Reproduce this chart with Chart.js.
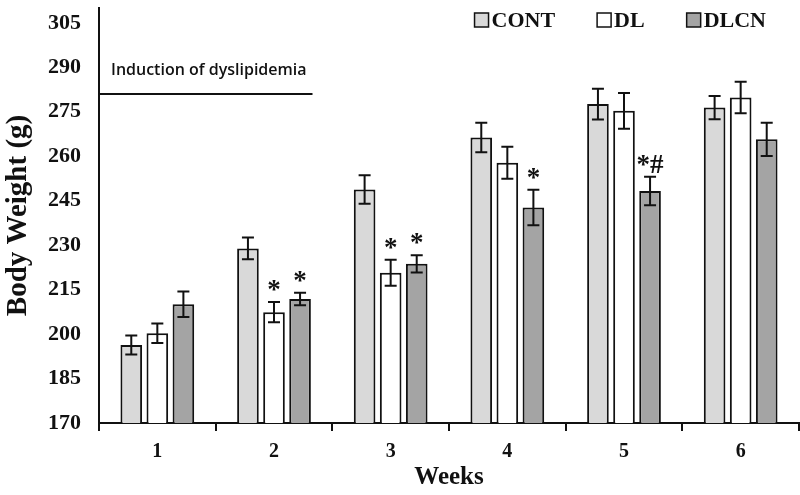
<!DOCTYPE html>
<html>
<head>
<meta charset="utf-8">
<script src="https://cdn.jsdelivr.net/npm/chart.js@4.4.0/dist/chart.umd.min.js"></script>
<style>
  html, body { margin: 0; padding: 0; background: #fff; }
  #wrap { width: 800px; height: 495px; }
</style>
</head>
<body>
<div id="wrap"><canvas id="weightChart"></canvas></div>
<script>
// Données
const weeks = ["1", "2", "3", "4", "5", "6"]
const seriesNames = ["CONT", "DL", "DLCN"]
const contValues = [196.3, 228.9, 248.8, 266.3, 277.6, 276.4]
const contErrors = [3.2, 3.7, 4.8, 5.0, 5.2, 3.9]
const dlValues = [200.3, 207.4, 220.7, 257.8, 275.3, 279.8]
const dlErrors = [3.3, 3.4, 4.4, 5.4, 6.0, 5.3]
const dlcnValues = [210.1, 211.8, 223.7, 242.7, 248.3, 265.7]
const dlcnErrors = [4.3, 2.1, 2.9, 6.0, 4.8, 5.6]
const contMarks = ["", "", "", "", "", ""]
const dlMarks = ["", "*", "*", "", "", ""]
const dlcnMarks = ["", "*", "*", "*", "*#", ""]
const yTickValues = [170, 185, 200, 215, 230, 245, 260, 275, 290, 305]
const inductionLabel = "Induction of dyslipidemia"
const inductionWeight = 281
const inductionWeeks = [-0.5, 1.33]

const SERIF = "'Liberation Serif', 'Times New Roman', serif"
const INK = "#111"
const fills = ["#d9d9d9", "#ffffff", "#a4a4a4"]

// Barres d'erreur + étoiles de significativité
const errorBarPlugin = {
  id: "errorBars",
  afterDatasetsDraw(chart) {
    const ctx = chart.ctx
    const y = chart.scales.y
    ctx.save()
    ctx.strokeStyle = INK
    ctx.lineWidth = 2
    chart.data.datasets.forEach((ds, i) => {
      const meta = chart.getDatasetMeta(i)
      meta.data.forEach((bar, j) => {
        const top = y.getPixelForValue(ds.data[j] + ds.errors[j])
        const bottom = y.getPixelForValue(ds.data[j] - ds.errors[j])
        const cap = 6
        ctx.beginPath()
        ctx.moveTo(bar.x, top)
        ctx.lineTo(bar.x, bottom)
        ctx.moveTo(bar.x - cap, top)
        ctx.lineTo(bar.x + cap, top)
        ctx.moveTo(bar.x - cap, bottom)
        ctx.lineTo(bar.x + cap, bottom)
        ctx.stroke()
        if (ds.marks[j]) {
          ctx.fillStyle = INK
          ctx.font = "bold 27px " + SERIF
          ctx.textAlign = "center"
          ctx.textBaseline = "middle"
          ctx.fillText(ds.marks[j], bar.x, top - 11)
        }
      })
    })
    ctx.restore()
  },
}

// Ligne "Induction of dyslipidemia" et légende
const annotationPlugin = {
  id: "annotations",
  afterDraw(chart) {
    const ctx = chart.ctx
    const { x, y } = chart.scales
    const area = chart.chartArea
    ctx.save()

    const x0 = x.getPixelForValue(inductionWeeks[0])
    const x1 = x.getPixelForValue(inductionWeeks[1])
    const ly = y.getPixelForValue(inductionWeight)
    ctx.strokeStyle = INK
    ctx.lineWidth = 2
    ctx.beginPath()
    ctx.moveTo(x0, ly)
    ctx.lineTo(x1, ly)
    ctx.stroke()
    ctx.fillStyle = INK
    ctx.font = "600 16px 'Open Sans', sans-serif"
    ctx.textAlign = "left"
    ctx.textBaseline = "middle"
    ctx.fillText(inductionLabel, x0 + 12, ly - 24)

    // légende
    ctx.font = "bold 22px " + SERIF
    const box = 14
    const gapText = 3
    const gapItem = 42
    const widths = seriesNames.map((n) => box + gapText + ctx.measureText(n).width)
    const total = widths.reduce((a, b) => a + b, 0) + gapItem * (seriesNames.length - 1)
    let lx = area.right - 33 - total
    const legY = 20
    seriesNames.forEach((name, i) => {
      ctx.fillStyle = fills[i]
      ctx.fillRect(lx, legY - box / 2, box, box)
      ctx.lineWidth = 1.5
      ctx.strokeStyle = INK
      ctx.strokeRect(lx, legY - box / 2, box, box)
      ctx.fillStyle = INK
      ctx.textBaseline = "middle"
      ctx.fillText(name, lx + box + gapText, legY + 1)
      lx += widths[i] + gapItem
    })
    ctx.restore()
  },
}

const makeSet = (label, data, errors, marks, i) => ({
  label,
  data,
  errors,
  marks,
  backgroundColor: fills[i],
  borderColor: INK,
  borderWidth: 2,
  borderSkipped: false,
  categoryPercentage: 0.67,
  barPercentage: 0.83,
})

new Chart(document.getElementById("weightChart"), {
  type: "bar",
  data: {
    labels: weeks,
    datasets: [
      makeSet(seriesNames[0], contValues, contErrors, contMarks, 0),
      makeSet(seriesNames[1], dlValues, dlErrors, dlMarks, 1),
      makeSet(seriesNames[2], dlcnValues, dlcnErrors, dlcnMarks, 2),
    ],
  },
  options: {
    responsive: true,
    maintainAspectRatio: false,
    animation: false,
    layout: { padding: { top: 8, right: 1, left: 0, bottom: 0 } },
    plugins: {
      legend: { display: false },
      tooltip: { enabled: false },
    },
    scales: {
      x: {
        offset: true,
        grid: {
          display: true,
          drawOnChartArea: false,
          drawTicks: true,
          tickLength: 8,
          color: INK,
          lineWidth: 2,
          offset: true,
        },
        border: { display: true, color: INK, width: 2 },
        ticks: { color: INK, padding: 9, font: { family: SERIF, size: 20, weight: "bold" } },
        title: {
          display: true,
          text: "Weeks",
          color: INK,
          font: { family: SERIF, size: 25, weight: "bold" },
          padding: { top: 0, bottom: 2 },
        },
        afterFit(scale) {
          scale.height = 72
          scale.paddingLeft = 0
          scale.paddingRight = 0
        },
      },
      y: {
        min: 170,
        max: 310,
        grid: { display: false, drawTicks: false },
        border: { display: true, color: INK, width: 2 },
        afterBuildTicks(scale) {
          scale.ticks = yTickValues.map((v) => ({ value: v }))
        },
        ticks: { color: INK, padding: 18, font: { family: SERIF, size: 22, weight: "bold" } },
        title: {
          display: true,
          text: "Body Weight (g)",
          color: INK,
          font: { family: SERIF, size: 29, weight: "bold" },
          padding: { top: 1, bottom: 0 },
        },
        afterFit(scale) {
          scale.width = 99
          scale.paddingTop = 0
          scale.paddingBottom = 0
        },
      },
    },
  },
  plugins: [errorBarPlugin, annotationPlugin],
})
</script>
</body>
</html>
